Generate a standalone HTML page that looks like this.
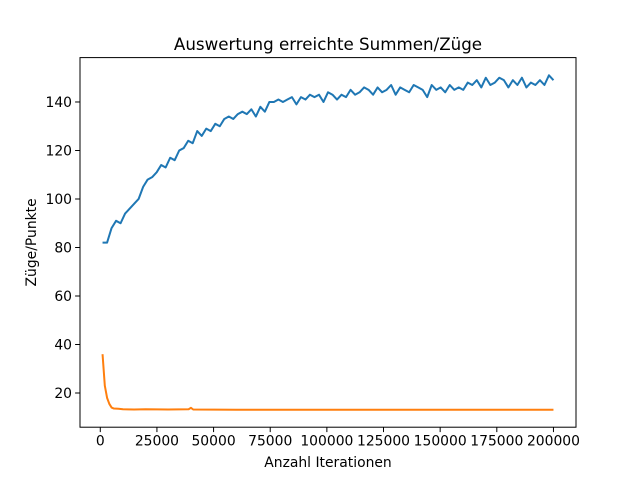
<!DOCTYPE html>
<html><head><meta charset="utf-8"><style>
body{margin:0;background:#fff;}
svg{display:block;font-family:"DejaVu Sans","Liberation Sans",sans-serif;}
</style></head><body>
<svg id="chart" width="640" height="480" viewBox="0 0 640 480"></svg>
<script>
const blueValues=[82,82,88,91,90,94,96,98,100,105,
108,109,111,114,113,117,116,120,121,124,
123,128,126,129,128,131,130,133,134,133,
135,136,135,137,134,138,136,140,140,141,
140,141,142,139,142,141,143,142,143,140,
144,143,141,143,142,145,143,144,146,145,
143,146,144,145,147,143,146,145,144,147,
146,145,142,147,145,146,144,147,145,146,
145,148,147,149,146,150,147,148,150,149,
146,149,147,150,146,148,147,149,147,151,149];
const orangeX=[1000,2000,3000,4000,5000,6000,8000,10000,15000,20000,30000,39000,40000,41000,60000,100000,150000,200000];
const orangeValues=[36,23,18,15.5,14,13.6,13.5,13.3,13.2,13.3,13.2,13.3,13.9,13.2,13.1,13.1,13.1,13.1];
const xTicks=[0,25000,50000,75000,100000,125000,150000,175000,200000];
const yTicks=[20,40,60,80,100,120,140];
const title="Auswertung erreichte Summen/Züge";

const L=80,R=576,T=57.6,B=427.2;
const xmin=-8950,xmax=209950,ymin=5.9,ymax=158.3;
const sx=v=>L+(v-xmin)/(xmax-xmin)*(R-L);
const sy=v=>B-(v-ymin)/(ymax-ymin)*(B-T);
const svg=document.getElementById('chart');
const NS='http://www.w3.org/2000/svg';
function mk(tag,attrs,parent){const e=document.createElementNS(NS,tag);for(const k in attrs)e.setAttribute(k,attrs[k]);(parent||svg).appendChild(e);return e;}

const blueX=blueValues.map((_,i)=>1000+i*1990);
const bl=mk('polyline',{points:blueValues.map((v,i)=>sx(blueX[i])+','+sy(v)).join(' '),fill:'none',stroke:'#1f77b4','stroke-width':2,'stroke-linejoin':'round'});


const ol=mk('polyline',{points:orangeValues.map((v,i)=>sx(orangeX[i])+','+sy(v)).join(' '),fill:'none',stroke:'#ff7f0e','stroke-width':2,'stroke-linejoin':'round'});



const frame=mk('rect',{x:L,y:T,width:R-L,height:B-T,fill:'none',stroke:'#000','stroke-width':1});



xTicks.forEach(t=>{
  const x=sx(t);
  mk('line',{x1:x,x2:x,y1:B,y2:B+4.9,stroke:'#000','stroke-width':1});
  const tx=mk('text',{x:x,y:B+18.5,'text-anchor':'middle','font-size':13.9});
  tx.textContent=t;
  
  
});
yTicks.forEach(t=>{
  const y=sy(t);
  mk('line',{x1:L-4.9,x2:L,y1:y,y2:y,stroke:'#000','stroke-width':1});
  const tx=mk('text',{x:L-8,y:y+5,'text-anchor':'end','font-size':13.9});
  tx.textContent=t;
  
  
});
const tt=mk('text',{x:(L+R)/2,y:50,'text-anchor':'middle','font-size':16.7});
tt.textContent=title;


const xl=mk('text',{x:(L+R)/2,y:467,'text-anchor':'middle','font-size':13.9});
xl.textContent='Anzahl Iterationen';


const yl=mk('text',{x:0,y:0,'text-anchor':'middle','font-size':13.9,transform:'translate(36,'+((T+B)/2)+') rotate(-90)'});
yl.textContent='Züge/Punkte';


</script>
</body></html>
